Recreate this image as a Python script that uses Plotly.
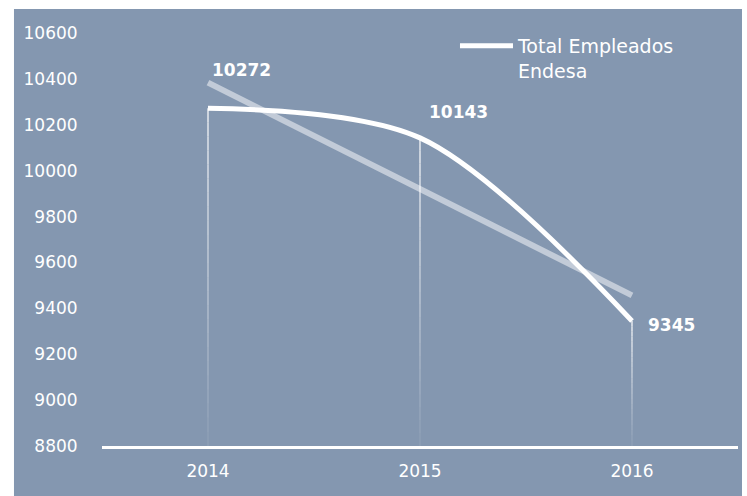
import numpy as np
import plotly.graph_objects as go

# ---- data ----
years = ["2014", "2015", "2016"]
empleados = [10272, 10143, 9345]
series_name = "Total Empleados<br>Endesa"
y_ticks = [8800, 9000, 9200, 9400, 9600, 9800, 10000, 10200, 10400, 10600]

BG = "#8497B0"
WHITE = "#FFFFFF"

xi = np.arange(len(years))
slope, intercept = np.polyfit(xi, empleados, 1)
trend = [float(v) for v in slope * xi + intercept]

fig = go.Figure()

# trendline
fig.add_trace(go.Scatter(
    x=years, y=trend, mode="lines", showlegend=False, hoverinfo="skip",
    line=dict(color="rgba(255,255,255,0.5)", width=6),
))

# main smoothed line
fig.add_trace(go.Scatter(
    x=years, y=empleados, mode="lines", name=series_name,
    line=dict(color=WHITE, width=5, shape="spline", smoothing=0.9),
))

y_min = y_ticks[0]
shapes = []
# white page strips around the coloured chart area
for x0, x1, y0, y1 in [(-0.2, -0.1384, -0.3, 1.2), (1.0063, 1.1, -0.3, 1.2),
                       (-0.2, 1.1, 1.058, 1.2)]:
    shapes.append(dict(type="rect", xref="paper", yref="paper", layer="above",
                       x0=x0, x1=x1, y0=y0, y1=y1,
                       fillcolor=WHITE, line=dict(width=0)))

# drop lines, fading toward the axis
n_seg = 24
for i, val in enumerate(empleados):
    for k in range(n_seg):
        a = val - (val - y_min) * k / n_seg
        b = val - (val - y_min) * (k + 1) / n_seg
        op = 1.0 - 0.9 * (k / (n_seg - 1))
        shapes.append(dict(type="line", xref="x", yref="y", layer="below",
                           x0=i, x1=i, y0=a, y1=b,
                           line=dict(color="rgba(255,255,255,%.3f)" % op, width=1.2)))

label_style = [
    dict(xanchor="left", yanchor="bottom", xshift=2, yshift=26),
    dict(xanchor="left", yanchor="bottom", xshift=7, yshift=14),
    dict(xanchor="left", yanchor="middle", xshift=14, yshift=-4),
]
annotations = []
for i, (val, st) in enumerate(zip(empleados, label_style)):
    annotations.append(dict(
        x=i, y=val, xref="x", yref="y", text="<b>%d</b>" % val, showarrow=False,
        font=dict(family="DejaVu Sans", size=17, color=WHITE), **st))

fig.update_layout(
    width=747, height=496,
    margin=dict(l=102, r=9, t=33, b=50),
    paper_bgcolor=BG, plot_bgcolor=BG,
    font=dict(family="DejaVu Sans", color=WHITE),
    shapes=shapes, annotations=annotations,
    showlegend=True,
    legend=dict(x=0.555, y=1.015, xanchor="left", yanchor="top",
                bgcolor="rgba(0,0,0,0)", valign="top", itemwidth=53,
                font=dict(family="DejaVu Sans", size=19, color=WHITE)),
    xaxis=dict(type="category", range=[-0.5, 2.5], showgrid=False, zeroline=False,
               showline=True, linecolor=WHITE, linewidth=3,
               ticks="outside", ticklen=8, tickcolor="rgba(0,0,0,0)",
               tickfont=dict(family="DejaVu Sans", size=17, color=WHITE)),
    yaxis=dict(range=[y_ticks[0], y_ticks[-1]], tickvals=y_ticks, tickformat="d",
               showgrid=False, zeroline=False, showline=False,
               ticks="outside", ticklen=20, tickcolor="rgba(0,0,0,0)",
               tickfont=dict(family="DejaVu Sans", size=17, color=WHITE)),
)

fig.write_html("out.html", config={"displayModeBar": False},
               post_script="document.body.style.margin='0';")
